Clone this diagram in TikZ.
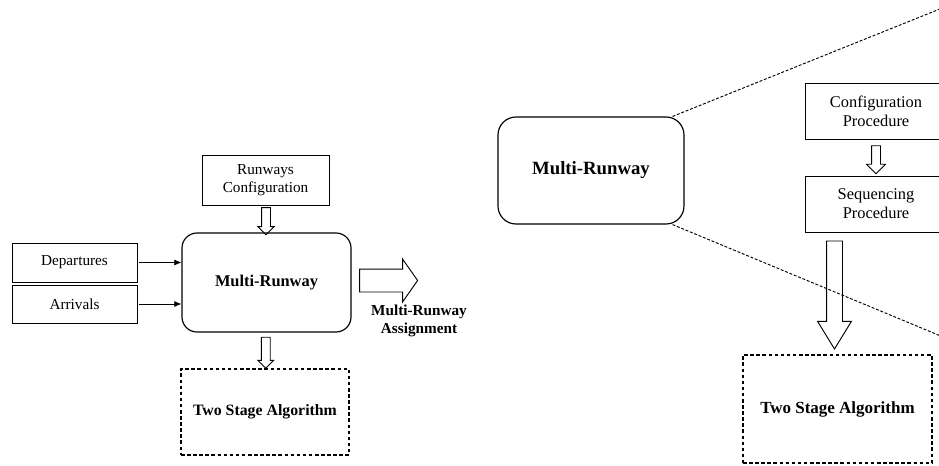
\documentclass[tikz,border=0pt]{standalone}
\usepackage{fontspec}
\setmainfont{Liberation Serif}
\usetikzlibrary{shapes.arrows, arrows.meta, calc}

\begin{document}
\begin{tikzpicture}[x=0.03cm, y=-0.03cm,
  box/.style={rectangle, draw, line width=0.8pt, align=center, inner sep=2pt, font=\fontsize{13}{15.5}\selectfont},
  core/.style={rectangle, draw, rounded corners=0.45cm, line width=1pt, font=\fontsize{14}{16}\selectfont\bfseries},
  algo/.style={rectangle, draw, line width=0.9pt, dash pattern=on 3pt off 2.2pt, font=\fontsize{13.5}{16}\selectfont\bfseries},
  hollow/.style={single arrow, draw, line width=0.8pt, inner xsep=0pt, inner ysep=0.12cm, rotate=-90, single arrow head extend=0.105cm},
  arrow/.style={-{Latex[length=6pt, width=5pt]}, line width=0.6pt},
  zoomline/.style={line width=0.8pt, dash pattern=on 2.5pt off 1.5pt}
]
  \clip (0,0) rectangle (939,465);

  \node[box, minimum width=3.81cm, minimum height=1.5cm] (rcfg) at (265.5,180) {Runways\\Configuration};
  \node[box, minimum width=3.75cm, minimum height=1.17cm] (dep) at (74.5,262.5) {Departures};
  \node[box, minimum width=3.75cm, minimum height=1.14cm] (arr) at (74.5,304) {Arrivals};
  \node[core, minimum width=5.07cm, minimum height=2.97cm] (mrL) at (266.5,282.5) {Multi-Runway};
  \node[algo, minimum width=5.04cm, minimum height=2.58cm] (tsL) at (265,412) {Two Stage Algorithm};
  \node[align=center, font=\fontsize{13}{16}\selectfont\bfseries] (assign) at (419,321) {Multi-Runway\\Assignment};

  \draw[arrow] (dep.east) ++(0.06cm,0) -- (dep.east -| mrL.west);
  \draw[arrow] (arr.east) ++(0.06cm,0) -- (arr.east -| mrL.west);
  \node[hollow, minimum height=0.81cm] (h1) at ($(rcfg.south)!0.5!(mrL.north)$) {};
  \node[hollow, minimum height=0.93cm] (h2) at ($(mrL.south)!0.5!(tsL.north)$) {};
  \node[single arrow, draw, line width=0.8pt, inner xsep=0pt, inner ysep=0.33cm, minimum height=1.74cm,
        single arrow head extend=0.3cm, single arrow tip angle=110] (h3) at ($(mrL.east)+(33,-2)$) {};

  \node[core, rounded corners=0.54cm, minimum width=5.58cm, minimum height=3.21cm,
        font=\fontsize{16}{18}\selectfont\bfseries] (mrR) at (591,170.5) {Multi-Runway};
  \node[box, minimum width=4.26cm, minimum height=1.68cm, font=\fontsize{14}{16}\selectfont] (cproc) at (876,111) {Configuration\\Procedure};
  \node[box, minimum width=4.26cm, minimum height=1.68cm, font=\fontsize{14}{16}\selectfont] (sproc) at (876,204) {Sequencing\\Procedure};
  \node[algo, minimum width=5.67cm, minimum height=3.24cm, font=\fontsize{14.5}{17}\selectfont\bfseries] (tsR) at (837.5,409) {Two Stage Algorithm};

  \node[hollow, minimum height=0.84cm, single arrow head extend=0.15cm] (h4) at ($(cproc.south)!0.5!(sproc.north)$) {};
  \node[hollow, minimum height=3.24cm, inner ysep=0.225cm, single arrow head extend=0.27cm,
        single arrow tip angle=63] (h5) at ($(sproc.south -| tsR.north)!0.5!(tsR.north)+(-3,-5)$) {};

  \coordinate (zt) at (960,0.9);
  \coordinate (zb) at (960,344);
  \draw[zoomline] ([xshift=-0.36cm]mrR.north east) -- (zt);
  \draw[zoomline] ([xshift=-0.36cm]mrR.south east) -- (zb);
\end{tikzpicture}
\end{document}
